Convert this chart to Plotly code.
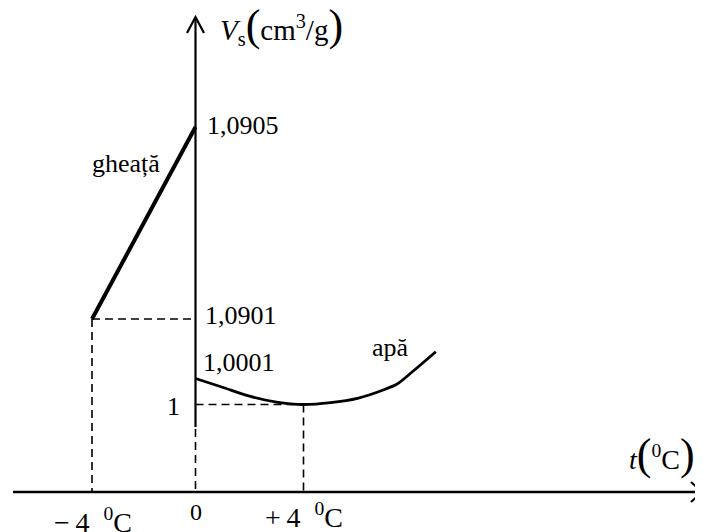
import plotly.graph_objects as go

# ---------------- data ----------------
ice_t = [-4, 0]
ice_v = [1.0901, 1.0905]
water_t = [0, 1, 2, 3, 4, 5, 6, 7, 7.5, 8, 8.9]
water_v = [1.0001, 1.0000665, 1.0000319, 1.0000092, 1.0, 1.0000073,
           1.0000238, 1.0000577, 1.0000808, 1.000123, 1.000203]
t_ticks = [-4, 0, 4]
t_tick_labels = ["\u2212\u20094\u00a0\u00a0<sup>0</sup>C", "0", "+\u20094\u00a0\u00a0<sup>0</sup>C"]
v_marks = [1.0905, 1.0901, 1.0001, 1]
v_mark_labels = ["1,0905", "1,0901", "1,0001", "1"]
ice_label = "gheață"
water_label = "apă"

# ---------------- layout constants (schematic, broken scales) ----------------
W, H = 703, 532          # page size
OFF = 8                  # page body margin in front of the figure
FW, FH = W - OFF, H - OFF
ORIGIN_PX = 195.5
AXIS_PY = 492
ICE_PX_PER_DEG = (195.5 - 92) / 4
WATER_PX_PER_DEG = (303.5 - 195.5) / 4
ICE_REF_V, ICE_REF_PY, ICE_PY_PER_UNIT = 1.0901, 319, 480000
WATER_REF_V, WATER_REF_PY, WATER_PY_PER_UNIT = 1.0, 404.5, 260000
FONT = "Liberation Serif, Times New Roman, serif"


def px(x):
    return (x - OFF) / FW


def py(y):
    return 1 - (y - OFF) / FH


ice_xrange = [(OFF - ORIGIN_PX) / ICE_PX_PER_DEG, (W - ORIGIN_PX) / ICE_PX_PER_DEG]
water_xrange = [(OFF - ORIGIN_PX) / WATER_PX_PER_DEG, (W - ORIGIN_PX) / WATER_PX_PER_DEG]
ice_yrange = [ICE_REF_V - (H - ICE_REF_PY) / ICE_PY_PER_UNIT,
              ICE_REF_V + (ICE_REF_PY - OFF) / ICE_PY_PER_UNIT]
water_yrange = [WATER_REF_V - (H - WATER_REF_PY) / WATER_PY_PER_UNIT,
                WATER_REF_V + (WATER_REF_PY - OFF) / WATER_PY_PER_UNIT]
ice_axis_v = ICE_REF_V - (AXIS_PY - ICE_REF_PY) / ICE_PY_PER_UNIT
water_axis_v = WATER_REF_V - (AXIS_PY - WATER_REF_PY) / WATER_PY_PER_UNIT

fig = go.Figure()

# ice branch (x / y)
fig.add_trace(go.Scatter(x=ice_t, y=ice_v, xaxis="x", yaxis="y", mode="lines",
                         line=dict(color="black", width=4), hoverinfo="skip"))
# water branch (x2 / y2)
fig.add_trace(go.Scatter(x=water_t, y=water_v, xaxis="x2", yaxis="y2", mode="lines",
                         line=dict(color="black", width=2.8, shape="spline", smoothing=0.7),
                         hoverinfo="skip"))

dash = "8px,5px"
guide = dict(color="black", width=1.6, dash=dash)
shapes = []
# dashed guides for ice start
shapes.append(dict(type="line", xref="x", yref="y", x0=ice_t[0], x1=0,
                   y0=ice_v[0], y1=ice_v[0], line=guide))
shapes.append(dict(type="line", xref="x", yref="y", x0=ice_t[0], x1=ice_t[0],
                   y0=ice_v[0], y1=ice_axis_v, line=guide))
# dashed guides for the water minimum
vmin = min(water_v)
tmin = water_t[water_v.index(vmin)]
shapes.append(dict(type="line", xref="x2", yref="y2", x0=0, x1=tmin,
                   y0=vmin, y1=vmin, line=guide))
shapes.append(dict(type="line", xref="x2", yref="y2", x0=tmin, x1=tmin,
                   y0=vmin, y1=water_axis_v, line=guide))
# vertical axis: solid, then dashed to the t axis
shapes.append(dict(type="line", xref="paper", yref="paper", x0=px(ORIGIN_PX), x1=px(ORIGIN_PX),
                   y0=py(17), y1=py(427), line=dict(color="black", width=2.2)))
shapes.append(dict(type="line", xref="paper", yref="paper", x0=px(ORIGIN_PX), x1=px(ORIGIN_PX),
                   y0=py(429), y1=py(AXIS_PY), line=guide))
# horizontal axis
shapes.append(dict(type="line", xref="paper", yref="paper", x0=px(13), x1=px(702),
                   y0=py(AXIS_PY), y1=py(AXIS_PY), line=dict(color="black", width=2.4)))
# arrow heads
shapes.append(dict(type="path", xref="paper", yref="paper",
                   path=f"M {px(187)},{py(33)} L {px(ORIGIN_PX)},{py(17)} L {px(204)},{py(33)}",
                   line=dict(color="black", width=2.2)))
shapes.append(dict(type="path", xref="paper", yref="paper",
                   path=f"M {px(691)},{py(482)} L {px(702)},{py(AXIS_PY)} L {px(691)},{py(502)}",
                   line=dict(color="black", width=2.2)))

annotations = []
# value marks on the vertical axis
mark_shift = {1.0905: (9, 1.5, "left"), 1.0901: (7.5, 3.5, "left"),
              1.0001: (5.5, 16.5, "left"), 1: (-13.5, -1.5, "right")}
for v, lab in zip(v_marks, v_mark_labels):
    xs, ys, anc = mark_shift[v]
    on_ice = v > 1.05
    annotations.append(dict(x=0, y=v, xref="x" if on_ice else "x2", yref="y" if on_ice else "y2",
                            text=lab, showarrow=False, xanchor=anc, yanchor="middle",
                            xshift=xs, yshift=ys, font=dict(family=FONT, size=26, color="black")))
# temperature marks
tick_pos = {-4: ("x", 0.5, -28, 28), 0: ("x", 0, -20, 24), 4: ("x2", 0.5, -23, 28)}
for t, lab in zip(t_ticks, t_tick_labels):
    xr, xs, ys, fs = tick_pos[t]
    annotations.append(dict(x=t, y=py(AXIS_PY), xref=xr, yref="paper", text=lab,
                            showarrow=False, xanchor="center", yanchor="middle",
                            xshift=xs, yshift=ys, font=dict(family=FONT, size=fs, color="black")))

big = '<span style="font-size:44px">'
annotations.append(dict(x=px(281), y=py(25), xref="paper", yref="paper",
                        text=f"<i>V</i><sub>s</sub>{big}(</span>cm<sup>3</sup>/g{big})</span>",
                        showarrow=False, xanchor="center", yanchor="middle",
                        font=dict(family=FONT, size=29, color="black")))
annotations.append(dict(x=px(662), y=py(454), xref="paper", yref="paper",
                        text=f"<i>t</i>{big}(</span><sup>0</sup>C{big})</span>",
                        showarrow=False, xanchor="center", yanchor="middle",
                        font=dict(family=FONT, size=28, color="black")))
annotations.append(dict(x=px(126.5), y=py(163), xref="paper", yref="paper", text=ice_label,
                        showarrow=False, xanchor="center", yanchor="middle",
                        font=dict(family=FONT, size=26, color="black")))
annotations.append(dict(x=px(390.5), y=py(347), xref="paper", yref="paper", text=water_label,
                        showarrow=False, xanchor="center", yanchor="middle",
                        font=dict(family=FONT, size=26, color="black")))

axis_common = dict(visible=False, fixedrange=True, showgrid=False, zeroline=False)
fig.update_layout(
    width=FW, height=FH, autosize=False,
    margin=dict(l=0, r=0, t=0, b=0, pad=0),
    paper_bgcolor="white", plot_bgcolor="white",
    showlegend=False,
    xaxis=dict(range=ice_xrange, domain=[0, 1], **axis_common),
    xaxis2=dict(range=water_xrange, overlaying="x", anchor="y2", **axis_common),
    yaxis=dict(range=ice_yrange, domain=[0, 1], **axis_common),
    yaxis2=dict(range=water_yrange, overlaying="y", anchor="x2", **axis_common),
    shapes=shapes,
    annotations=annotations,
)

fig.write_html("out.html")
